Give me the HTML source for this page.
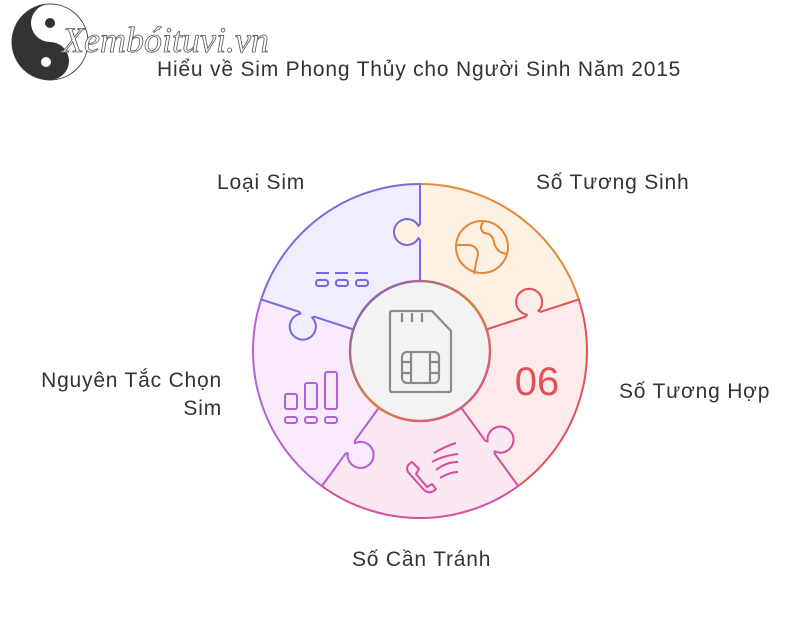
<!DOCTYPE html>
<html><head><meta charset="utf-8">
<style>
body{margin:0;background:#fff;}
#w{position:relative;width:800px;height:633px;overflow:hidden;font-family:"Liberation Sans","DejaVu Sans",sans-serif;color:#333;}
.t{position:absolute;font-size:21px;letter-spacing:0.8px;white-space:nowrap;}
</style></head>
<body><div id="w">
<svg id="s" width="800" height="633" style="position:absolute;left:0;top:0">
 <circle cx="50" cy="42" r="38" fill="#fff" stroke="#444" stroke-width="1"/>
 <path d="M50 4 A38 38 0 0 0 50 80 A19 19 0 0 0 50 42 A19 19 0 0 1 50 4Z" fill="#333"/>
 <circle cx="50" cy="23" r="5" fill="#333"/>
 <circle cx="46" cy="62" r="5" fill="#fff"/>
 <text x="62" y="52" font-family="Liberation Serif,serif" font-style="italic" font-size="36" fill="#fff" stroke="#555" stroke-width="0.8">Xembóituvi.vn</text>
 <g id="g"></g>
 <defs>
  <linearGradient id="ig" x1="0" y1="0" x2="1" y2="1"><stop offset="0" stop-color="#6b5fe0"/><stop offset="0.5" stop-color="#e07a3a"/><stop offset="1" stop-color="#d050a0"/></linearGradient>
 </defs>
 <circle cx="420" cy="351" r="70" fill="#f3f3f3" stroke="url(#ig)" stroke-width="2.5"/>
 <g fill="none" stroke="#8a8a8a" stroke-width="2.2" stroke-linejoin="round">
  <path d="M392 311 H432 L451 331 V390 Q451 392 449 392 H392 Q390 392 390 390 V313 Q390 311 392 311Z"/>
  <path d="M402 313 V322 M412 313 V322 M422 313 V322"/>
  <rect x="402" y="352" width="37" height="31" rx="5"/>
  <path d="M402 362 H411 M402 373 H411 M430 362 H439 M430 373 H439 M411 352 V383 M430 352 V383"/>
 </g>
 <g fill="none" stroke="#e0893c" stroke-width="2">
  <circle cx="482" cy="247" r="26"/>
  <path d="M457 245 H470 Q478 247 478 255 Q476 262 474 274"/>
  <path d="M484 221 Q478 228 484 233 Q492 233 494 242 Q496 252 506 254"/>
 </g>
 <text x="537" y="395" text-anchor="middle" font-size="40" fill="#e05058" font-family="Liberation Sans,sans-serif">06</text>
 <g fill="none" stroke="#7a66e0" stroke-width="2">
  <path d="M316 273 H329 M335 273 H348 M355 273 H368"/>
  <rect x="316" y="280" width="12" height="6" rx="2.5"/><rect x="336" y="280" width="12" height="6" rx="2.5"/><rect x="356" y="280" width="12" height="6" rx="2.5"/>
 </g>
 <g fill="none" stroke="#b060d8" stroke-width="2">
  <rect x="285" y="394" width="12" height="15" rx="2"/><rect x="305" y="383" width="12" height="26" rx="2"/><rect x="325" y="372" width="12" height="37" rx="2"/>
  <rect x="285" y="417" width="12" height="6" rx="2.5"/><rect x="305" y="417" width="12" height="6" rx="2.5"/><rect x="325" y="417" width="12" height="6" rx="2.5"/>
 </g>
 <g fill="none" stroke="#d84b9a" stroke-width="2" stroke-linejoin="round">
  <path d="M412 462 Q405 466 408 472 L424 490 Q430 495 436 489 L432 484 L427 487 L416 474 L419 469 Z"/>
  <path d="M434 453 Q446 446 456 443 M432 462 Q442 456 458 454 M436 470 Q446 462 458 462 M440 478 Q450 472 458 472"/>
 </g>
</svg>
<div class="t" style="left:157px;top:58px;">Hiểu về Sim Phong Thủy cho Người Sinh Năm 2015</div>
<div class="t" style="left:217px;top:171px;">Loại Sim</div>
<div class="t" style="left:536px;top:171px;">Số Tương Sinh</div>
<div class="t" style="left:619px;top:380px;">Số Tương Hợp</div>
<div class="t" style="left:20px;top:367px;width:202px;text-align:right;line-height:28px;">Nguyên Tắc Chọn<br>Sim</div>
<div class="t" style="left:352px;top:548px;">Số Cần Tránh</div>
</div>
<script>
(function(){
var cx=420,cy=351,R=167,r=70,D=Math.PI/180;
function bnd(th){
 var u=[Math.cos(th*D),Math.sin(th*D)],n=[Math.cos((th-90)*D),Math.sin((th-90)*D)];
 function P(a,o){return [cx+a*u[0]+o*n[0],cy+a*u[1]+o*n[1]];}
 var pts=[P(r,0),P(111,0),P(113,1.5)];
 for(var a=-117.6;a>=-422.4;a-=8){pts.push(P(119+13*Math.cos(a*D),13+13*Math.sin(a*D)));}
 pts.push(P(125,1.5),P(127,0),P(R,0));return pts;
}
var regs=[[-90,-18,"#fdf1e3","#e08a3a"],[-18,54,"#fdeaea","#e0525a"],[54,126,"#fce8f3","#d6509c"],[126,198,"#f9ebfc","#b262d8"],[198,270,"#f0eefc","#7a6ae0"]];
var g=document.getElementById("g"),h="";
regs.forEach(function(q){
 var A=bnd(q[0]),B=bnd(q[1]).reverse(),p=A.slice();
 for(var t=q[0];t<=q[1];t+=2)p.push([cx+R*Math.cos(t*D),cy+R*Math.sin(t*D)]);
 p=p.concat(B);
 for(var t=q[1];t>=q[0];t-=2)p.push([cx+r*Math.cos(t*D),cy+r*Math.sin(t*D)]);
 h+='<polygon points="'+p.map(function(x){return x[0].toFixed(1)+","+x[1].toFixed(1)}).join(" ")+'" fill="'+q[2]+'" stroke="'+q[3]+'" stroke-width="2" stroke-linejoin="round"/>';
});
g.innerHTML=h;
})();
</script>
</body></html>
